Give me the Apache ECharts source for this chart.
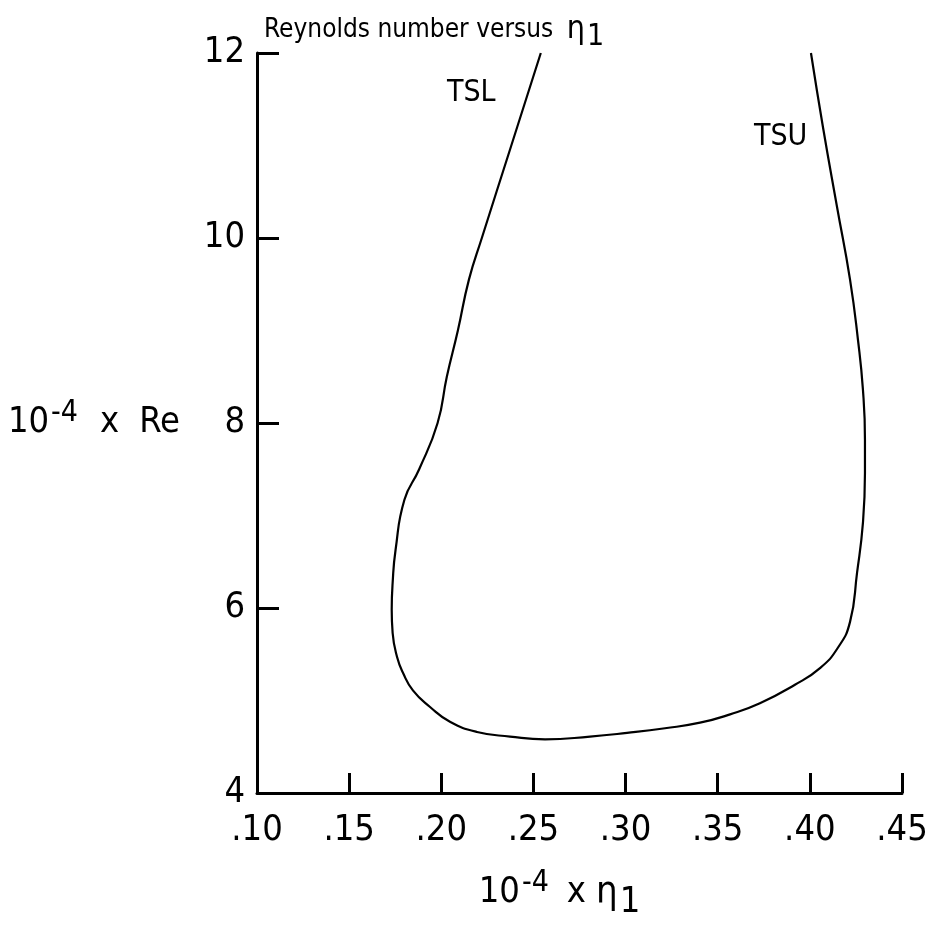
<!DOCTYPE html>
<html>
<head>
<meta charset="utf-8">
<script src="https://cdn.jsdelivr.net/npm/echarts@6/dist/echarts.min.js"></script>
<style>
  html, body { margin: 0; padding: 0; background: #fff; }
  #chart { width: 926px; height: 926px; }
</style>
</head>
<body>
<div id="chart"></div>
<script>
const FONT = "'Liberation Sans Narrow', 'DejaVu Sans Condensed', 'DejaVu Sans', sans-serif"

// stability boundary, traced from the TSL end (top left), round the bottom, up to TSU (top right)
const n1 = [0.254, 0.238, 0.222, 0.215, 0.209, 0.203, 0.198, 0.188, 0.180, 0.1752, 0.1736, 0.1731,
  0.1736, 0.1760, 0.1792, 0.1846, 0.1939, 0.2047, 0.2194, 0.2373, 0.2563, 0.2807, 0.3008, 0.3214, 0.3404,
  0.3567, 0.3729, 0.3919, 0.4055, 0.4152, 0.4218, 0.4256, 0.4288, 0.4299, 0.4299, 0.4288, 0.4261, 0.4218,
  0.4147, 0.4071, 0.4006]
const re = [12.0, 11.0, 10.0, 9.55, 9.0, 8.5, 8.0, 7.5, 7.17, 6.63, 6.27, 5.98,
  5.73, 5.47, 5.30, 5.11, 4.93, 4.77, 4.66, 4.61, 4.58, 4.61, 4.65, 4.70, 4.76,
  4.85, 4.97, 5.17, 5.35, 5.57, 5.85, 6.38, 6.92, 7.46, 7.82, 8.36, 8.90, 9.55,
  10.34, 11.2, 12.0]

const xTickLabels = ['.10', '.15', '.20', '.25', '.30', '.35', '.40', '.45']
const yTickLabels = ['4', '6', '8', '10', '12']

const chart = echarts.init(document.getElementById('chart'))

const axisLine = { show: true, lineStyle: { color: '#000', width: 3 } }

chart.setOption({
  animation: false,
  backgroundColor: '#fff',
  title: {
    text: 'Reynolds number versus {eta|η}{sub|1}',
    left: 259,
    top: 3,
    textStyle: {
      fontFamily: FONT, fontSize: 26, fontWeight: 'normal', color: '#000',
      rich: {
        eta: { fontFamily: FONT, fontSize: 32, color: '#000', padding: [0, 0, 0, 6] },
        sub: { fontFamily: FONT, fontSize: 30, color: '#000', padding: [14, 0, 0, 2] }
      }
    }
  },
  grid: { left: 257, top: 53, width: 645, height: 740, outerBoundsMode: 'none' },
  xAxis: {
    type: 'value',
    min: 0.10,
    max: 0.45,
    interval: 0.05,
    axisLine,
    axisTick: { show: true, inside: true, length: 20, lineStyle: { color: '#000', width: 3 } },
    splitLine: { show: false },
    axisLabel: {
      margin: 20, color: '#000', fontFamily: FONT, fontSize: 36,
      formatter: (v, i) => xTickLabels[i]
    },
    name: '10{sup|-4}{x|x}{eta|η}{sub|1}',
    nameLocation: 'middle',
    nameGap: 72,
    nameTextStyle: {
      color: '#000', fontFamily: FONT, fontSize: 36, padding: [0, 40, 0, 0],
      rich: {
        sup: { fontFamily: FONT, fontSize: 30, color: '#000', padding: [0, 0, 20, 2] },
        x: { fontFamily: FONT, fontSize: 36, color: '#000', padding: [0, 10, 0, 18] },
        eta: { fontFamily: FONT, fontSize: 38, color: '#000' },
        sub: { fontFamily: FONT, fontSize: 36, color: '#000', padding: [20, 0, 0, 2] }
      }
    }
  },
  yAxis: {
    type: 'value',
    min: 4,
    max: 12,
    interval: 2,
    axisLine,
    axisTick: { show: true, inside: true, length: 22, lineStyle: { color: '#000', width: 3 } },
    splitLine: { show: false },
    axisLabel: {
      margin: 12, color: '#000', fontFamily: FONT, fontSize: 36,
      formatter: (v, i) => yTickLabels[i]
    },
    name: '10{sup|-4}{x|x}Re',
    nameLocation: 'middle',
    nameRotate: 0,
    nameGap: 77,
    nameTextStyle: {
      color: '#000', fontFamily: FONT, fontSize: 36, align: 'right',
      rich: {
        sup: { fontFamily: FONT, fontSize: 30, color: '#000', padding: [0, 0, 20, 2] },
        x: { fontFamily: FONT, fontSize: 36, color: '#000', padding: [0, 20, 0, 22] }
      }
    }
  },
  graphic: [
    { type: 'text', left: 447, top: 78, style: { text: 'TSL', font: '30px ' + FONT, fill: '#000' } },
    { type: 'text', left: 754, top: 122, style: { text: 'TSU', font: '30px ' + FONT, fill: '#000' } }
  ],
  series: [{
    type: 'line',
    data: n1.map((x, i) => [x, re[i]]),
    showSymbol: false,
    smooth: 0.5,
    lineStyle: { color: '#000', width: 2.2 }
  }]
})
</script>
</body>
</html>
